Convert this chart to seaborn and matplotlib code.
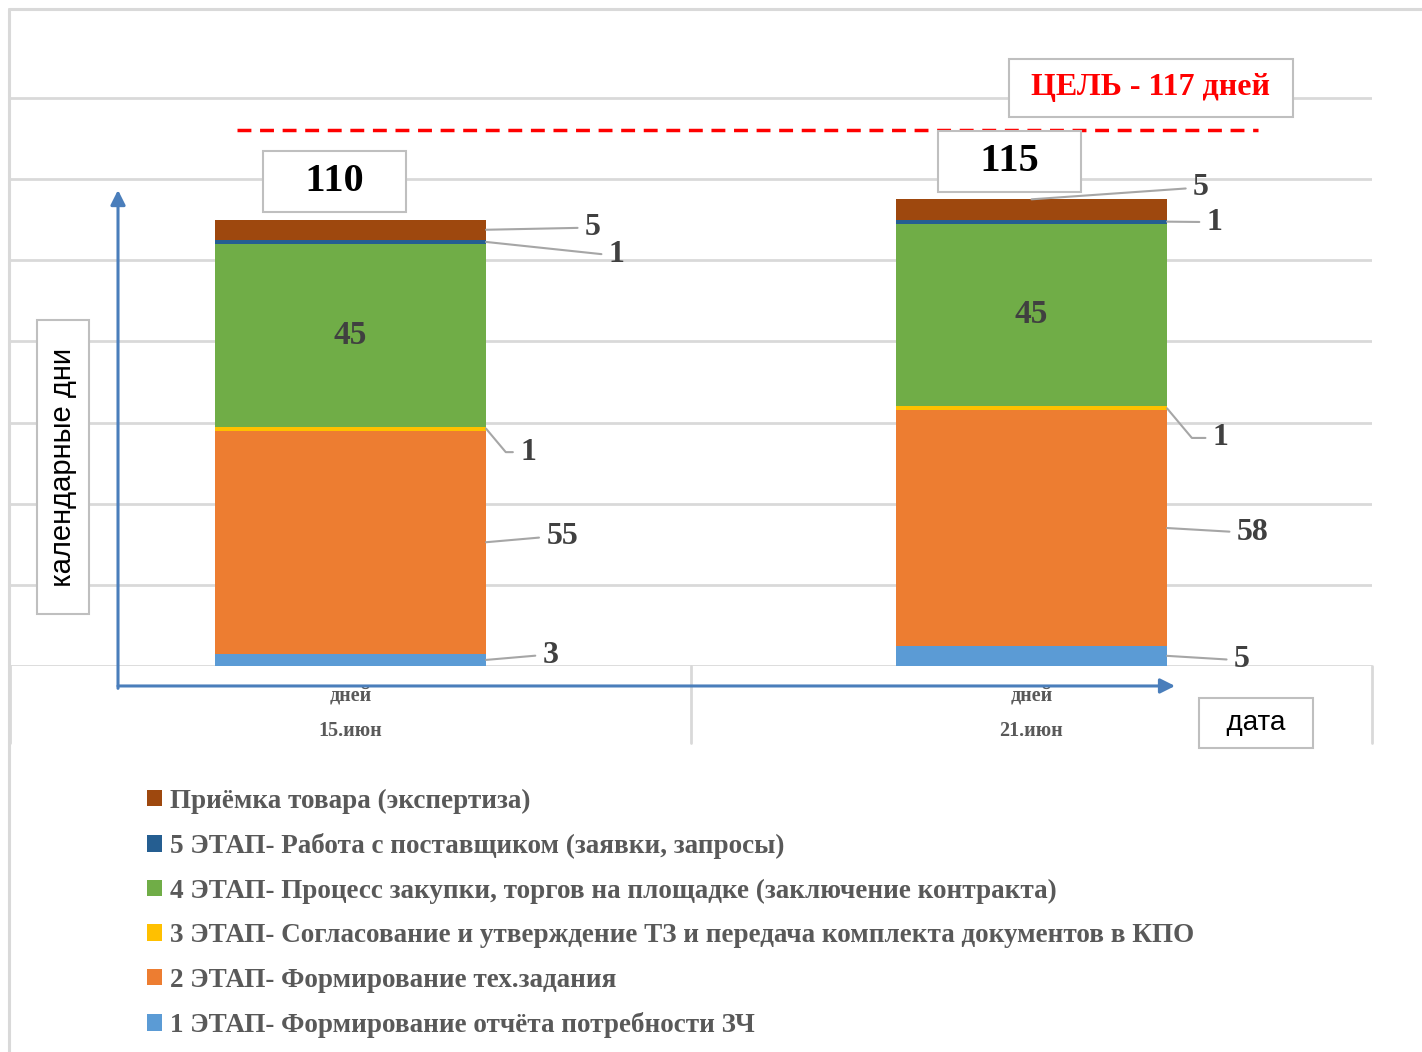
import numpy as np
import pandas as pd
import matplotlib.pyplot as plt
import seaborn as sns
from matplotlib.patches import Patch
from matplotlib.lines import Line2D

# ==========================
# Data
# ==========================
dates = ["15.июн", "21.июн"]
stages = [
    "1 ЭТАП- Формирование отчёта потребности ЗЧ",
    "2 ЭТАП- Формирование тех.задания",
    "3 ЭТАП- Согласование и утверждение ТЗ и передача комплекта документов в КПО",
    "4 ЭТАП- Процесс закупки, торгов на площадке (заключение контракта)",
    "5 ЭТАП- Работа с поставщиком (заявки, запросы)",
    "Приёмка товара (экспертиза)",
]
days_jun15 = [3, 55, 1, 45, 1, 5]
days_jun21 = [5, 58, 1, 45, 1, 5]
target_days = 117
target_line_level = 132   # where the dashed line is drawn on the picture

colors = ["#5B9BD5", "#ED7D31", "#FFC000", "#70AD47", "#255E91", "#9E480E"]

# label text positions (data coords), one per stage, per bar
label_pos = [
    [(0.294, 2.7), (0.311, 31.8), (0.261, 52.7), None, (0.391, 101.3), (0.356, 108.0)],
    [(1.309, 1.5), (1.325, 33.0), (1.278, 56.2), None, (1.269, 109.4), (1.249, 117.8)],
]
total_box_dx = [-0.023, -0.032]

# ==========================
# Long table for seaborn
# ==========================
rows = []
for d, vals in zip(dates, [days_jun15, days_jun21]):
    cum = np.cumsum(vals)
    for s, v, c in zip(stages, vals, cum):
        rows.append({"date": d, "stage": s, "days": v, "cum": c})
df = pd.DataFrame(rows)

sns.set_theme(style="white")
plt.rcParams["font.family"] = ["Liberation Serif", "DejaVu Serif"]

fig = plt.figure(figsize=(14.22, 10.52), dpi=100)
ax = fig.add_axes([10 / 1422, 1 - 666 / 1052, 1362 / 1422, 657 / 1052])

bar_w = 0.398
# draw cumulative totals from the top stage down so lower stages sit on top
for s, c in reversed(list(zip(stages, colors))):
    sns.barplot(data=df[df["stage"] == s], x="date", y="cum", order=dates,
                color=c, saturation=1, width=bar_w, errorbar=None, ax=ax,
                linewidth=0, edgecolor="none")

ax.set_ylim(0, 161.9)
ax.set_xlim(-0.5, 1.5)
ax.set_yticks(np.arange(0, 141, 20))
ax.yaxis.grid(True, color="#d9d9d9", lw=2)
ax.set_axisbelow(True)
ax.tick_params(axis="y", left=False, labelleft=False)
ax.tick_params(axis="x", bottom=False, pad=9)
ax.set_xticks([0, 1], ["дней", "дней"], fontsize=14.5, fontweight="bold", color="#595959")
ax.set_xlabel("")
ax.set_ylabel("")
for sp in ax.spines.values():
    sp.set_visible(False)

# category dates and separators under the axis
for i, d in enumerate(dates):
    ax.text(i, -0.099, d, transform=ax.get_xaxis_transform(), ha="center", va="center",
            fontsize=14.5, fontweight="bold", color="#595959")
for xf in [0.0, 0.5, 1.0]:
    ax.plot([xf, xf], [0, -0.117], transform=ax.transAxes, color="#d9d9d9",
            lw=2, clip_on=False)

# ==========================
# Data labels
# ==========================
for b, vals in enumerate([days_jun15, days_jun21]):
    cum = np.cumsum(vals)
    for k, v in enumerate(vals):
        mid = cum[k] - v / 2
        if label_pos[b][k] is None:
            ax.text(b, mid, str(v), ha="center", va="center", fontsize=24,
                    fontweight="bold", color="#404040")
            continue
        tx, ty = label_pos[b][k]
        sx = b + bar_w / 2
        sy = mid
        if b == 1 and k == 5:
            sx, sy = b, cum[k]
        cs = "angle,angleA=0,angleB=-50,rad=0" if k == 2 else "arc3"
        ax.annotate(str(v), xy=(sx, sy), xytext=(tx, ty), ha="center", va="center",
                    fontsize=23, fontweight="bold", color="#404040",
                    arrowprops=dict(arrowstyle="-", color="#a6a6a6", lw=1.5,
                                    shrinkA=3, shrinkB=0, relpos=(0, 0.5),
                                    connectionstyle=cs))

# totals in boxes
totals = [sum(days_jun15), sum(days_jun21)]
for i, t in enumerate(totals):
    ax.text(i + total_box_dx[i], t + 9.4, f"   {t}   ", ha="center", va="center",
            fontsize=29, fontweight="bold", color="black",
            bbox=dict(boxstyle="square,pad=0.3", fc="white", ec="#bfbfbf", lw=1.5))

# target line and box
ax.hlines(target_line_level, -0.167, 1.333, colors="red", lw=2.5,
          linestyles=(0, (4, 2.5)))
ax.text(0.8377, 0.8798, f" ЦЕЛЬ - {target_days} дней ", transform=ax.transAxes,
        ha="center", va="center", fontsize=23, fontweight="bold", color="red",
        bbox=dict(boxstyle="square,pad=0.45", fc="white", ec="#bfbfbf", lw=1.5))

# axis label boxes
ax.text(0.0389, 0.303, "  календарные дни  ", transform=ax.transAxes, rotation=90,
        ha="center", va="center", fontsize=21, family=["Liberation Sans", "DejaVu Sans"],
        color="black",
        bbox=dict(boxstyle="square,pad=0.4", fc="white", ec="#bfbfbf", lw=1.5))
ax.text(0.9148, -0.0868, "  дата  ", transform=ax.transAxes,
        ha="center", va="center", fontsize=20, family=["Liberation Sans", "DejaVu Sans"],
        color="black",
        bbox=dict(boxstyle="square,pad=0.42", fc="white", ec="#bfbfbf", lw=1.5))

# blue axis arrows
arrow_kw = dict(arrowstyle="-|>", color="#4A7EBB", lw=2.2, mutation_scale=22,
                shrinkA=0, shrinkB=0)
ax.annotate("", xy=(0.0793, 0.7245), xytext=(0.0793, -0.034), xycoords="axes fraction",
            textcoords="axes fraction", arrowprops=arrow_kw, annotation_clip=False)
ax.annotate("", xy=(0.8554, -0.0304), xytext=(0.0793, -0.0304), xycoords="axes fraction",
            textcoords="axes fraction", arrowprops=arrow_kw, annotation_clip=False)

# ==========================
# Legend
# ==========================
handles = [Patch(facecolor=c, edgecolor="none") for c in colors][::-1]
fig.legend(handles, stages[::-1], loc="upper left", bbox_to_anchor=(123 / 1422, 1 - 764 / 1052),
           frameon=False, handlelength=0.55, handleheight=0.55, handletextpad=0.3,
           labelspacing=0.72, prop={"family": ["Liberation Serif"], "weight": "bold", "size": 19.5},
           labelcolor="#595959")

# outer frame
fig.add_artist(Line2D([9 / 1422, 9 / 1422], [0, 1 - 9 / 1052], color="#d9d9d9", lw=2.2))
fig.add_artist(Line2D([9 / 1422, 1], [1 - 9 / 1052, 1 - 9 / 1052], color="#d9d9d9", lw=2.2))

plt.savefig("out.png", dpi=100, facecolor="white")
